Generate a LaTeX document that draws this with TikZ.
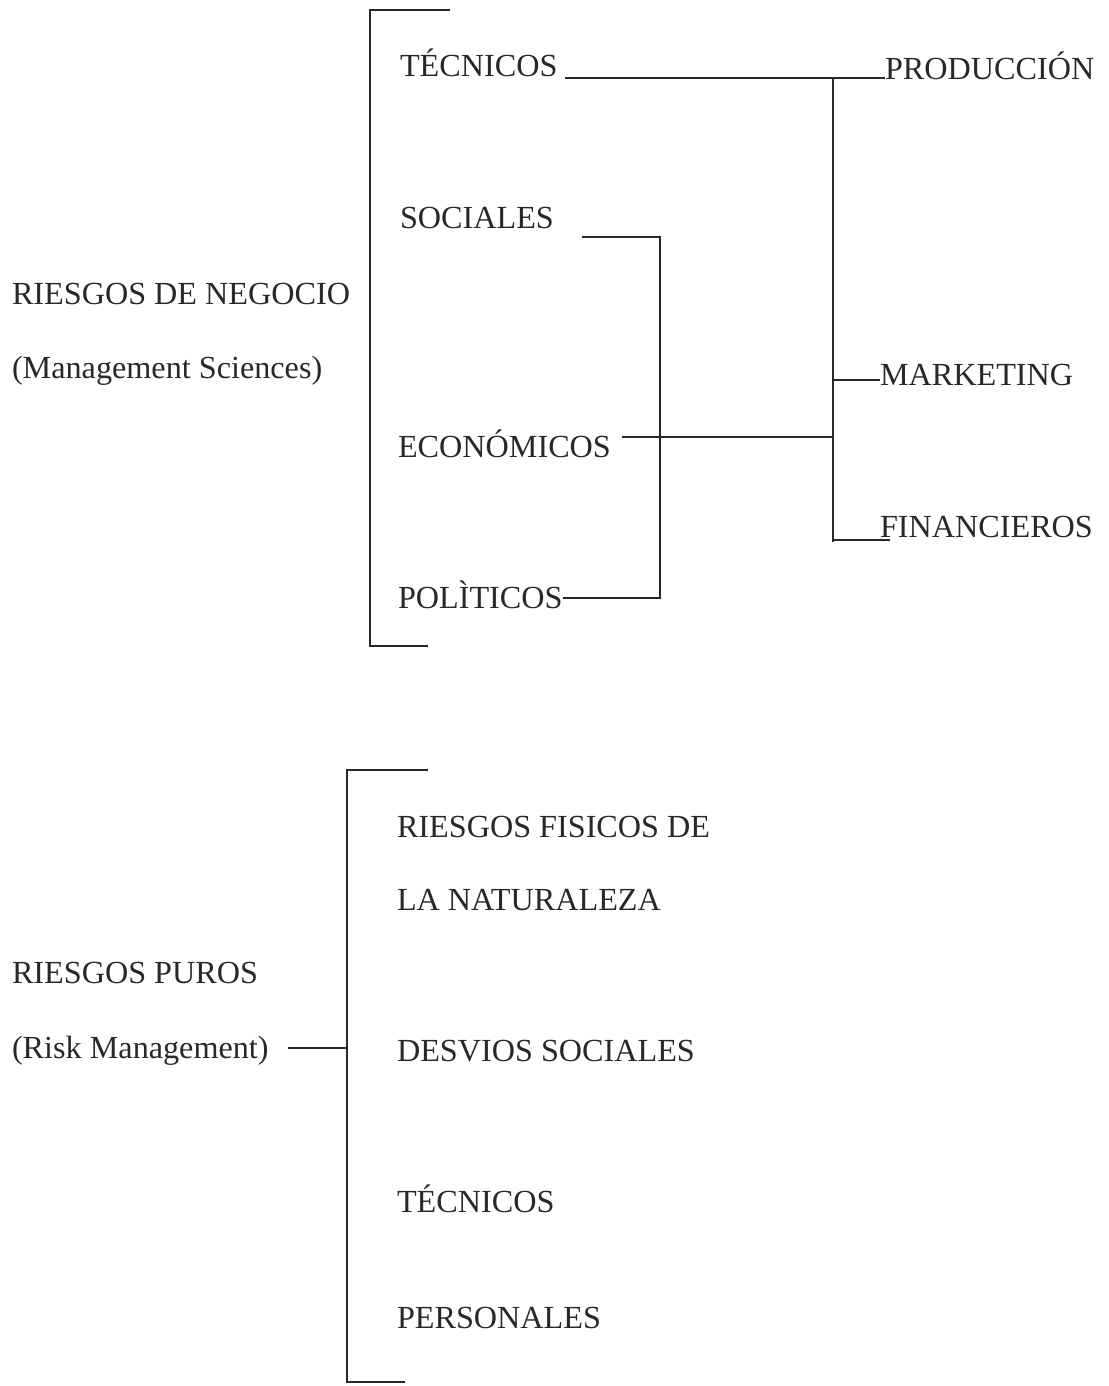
\documentclass[tikz,border=0pt]{standalone}
\usepackage{fontspec}
\setmainfont{Liberation Serif}
\begin{document}
\begin{tikzpicture}[x=0.5pt,y=-0.5pt,
  lbl/.style={anchor=base west,inner sep=0pt,outer sep=0pt,
    font=\fontsize{16.1}{19}\selectfont,text=ink},
  ln/.style={draw=ink,line width=1pt}]
\definecolor{ink}{HTML}{282828}
\useasboundingbox (0,0) rectangle (1108,1386);

% ---------- business risks ----------
\node[lbl] (neg)  at (12,304)  {RIESGOS DE NEGOCIO};
\node[lbl] (mgs)  at (12,378)  {(Management Sciences)};

\node[lbl] (tec)  at (400,77)  {TÉCNICOS};
\node[lbl] (soc)  at (400,228) {SOCIALES};
\node[lbl] (eco)  at (398,457) {ECONÓMICOS};
\node[lbl] (pol)  at (398,608) {POLÌTICOS};

\node[lbl] (prod) at (885,80)  {PRODUCCIÓN};
\node[lbl] (mkt)  at (880,385) {MARKETING};
\node[lbl] (fin)  at (880,537) {FINANCIEROS};

% left bracket
\coordinate (bt1) at (450,10);
\coordinate (bt0) at (370,10);
\coordinate (bb0) at (370,646);
\coordinate (bb1) at (428,646);
\draw[ln] (bt1) -- (bt0) -- (bb0) -- (bb1);

% inner bracket joining SOCIALES and POLÌTICOS
\coordinate (s0) at (582,237);
\coordinate (s1) at (660,237);
\coordinate (p1) at (660,598);
\draw[ln] (s0) -- (s1) -- (p1) -- (pol.east |- p1);

% trunk to the functional areas
\coordinate (tTop) at (833,78);
\coordinate (tBot) at (833,542);
\coordinate (tEco) at (833,437);
\coordinate (tMkt) at (833,380);
\coordinate (tFin) at (833,540);
\coordinate (tecEnd) at (565,78);
\coordinate (ecoEnd) at (622,437);
\draw[ln] (tecEnd) -- (tTop) -- (prod.west |- tTop);
\draw[ln] (tTop) -- (tBot);
\draw[ln] (ecoEnd) -- (tEco);
\draw[ln] (tMkt) -- (mkt.west |- tMkt);
\draw[ln] (tFin) -- ([xshift=5pt]fin.west |- tFin);

% ---------- pure risks ----------
\node[lbl] (pur)  at (12,983)   {RIESGOS PUROS};
\node[lbl] (rkm)  at (12,1058)  {(Risk Management)};

\node[lbl] (fis)  at (397,837)  {RIESGOS FISICOS DE};
\node[lbl] (nat)  at (397,910)  {LA NATURALEZA};
\node[lbl] (des)  at (397,1061) {DESVIOS SOCIALES};
\node[lbl] (tec2) at (397,1212) {TÉCNICOS};
\node[lbl] (per)  at (397,1328) {PERSONALES};

\coordinate (ct1) at (428,770);
\coordinate (ct0) at (347,770);
\coordinate (cb0) at (347,1382);
\coordinate (cb1) at (405,1382);
\coordinate (cm)  at (347,1048);
\coordinate (rkmEnd) at (288,1048);
\draw[ln] (ct1) -- (ct0) -- (cb0) -- (cb1);
\draw[ln] (rkmEnd) -- (cm);
\end{tikzpicture}
\end{document}
